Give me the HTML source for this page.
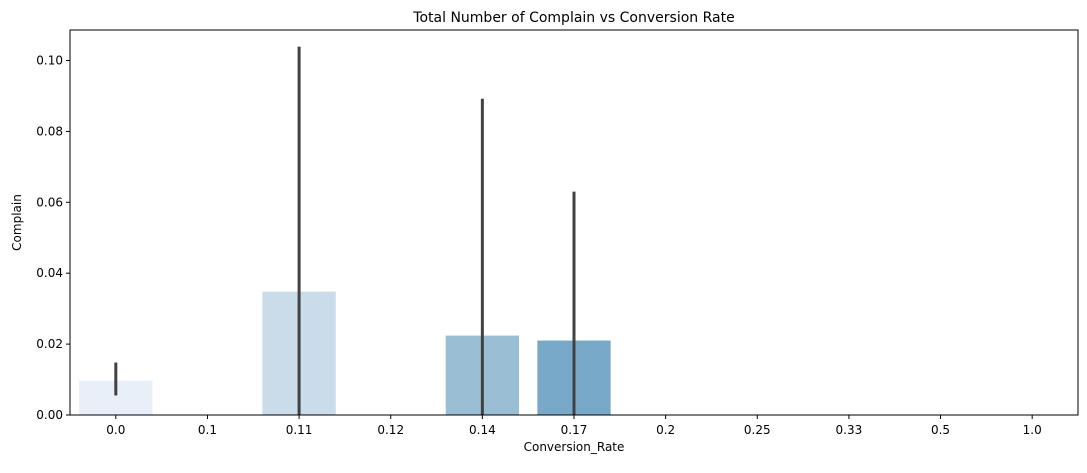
<!DOCTYPE html>
<html><head><meta charset="utf-8"><style>
body{margin:0;background:#fff;font-family:"Liberation Sans","DejaVu Sans",sans-serif}
svg text{font-family:"DejaVu Sans","Liberation Sans",sans-serif;fill:#000}
</style></head><body>
<svg id="c" width="1087" height="468"></svg>
<script>
const categories=["0.0","0.1","0.11","0.12","0.14","0.17","0.2","0.25","0.33","0.5","1.0"];
const values=[0.0097,0,0.0348,0,0.0224,0.0210,0,0,0,0,0];
const errLow=[0.0055,0,0,0,0,0,0,0,0,0,0];
const errHigh=[0.0148,0,0.1039,0,0.0892,0.0630,0,0,0,0,0];
const colors=["#e8eff8","#dbe8f4","#cadbea","#b5d1e4","#9abed4","#78a9c8","#5a96c2","#3f81b8","#2b6aa9","#1a5396","#0c3d7a"];
const yTicks=[0,0.02,0.04,0.06,0.08,0.10];
const yTickLabels=["0.00","0.02","0.04","0.06","0.08","0.10"];
const yMax=0.1086;
const L=70,R=1078,T=30,B=415;
const svg=document.getElementById('c');
const NS='http://www.w3.org/2000/svg';
function el(t,a,p){const e=document.createElementNS(NS,t);for(const k in a)e.setAttribute(k,a[k]);(p||svg).appendChild(e);return e;}
const band=(R-L)/categories.length;
const x=i=>L+band*(i+0.5);
const y=v=>B-(v/yMax)*(B-T);
categories.forEach((c,i)=>{
  if(values[i]>0){
    const r=el('rect',{x:x(i)-band*0.4,y:y(values[i]),width:band*0.8,height:B-y(values[i]),fill:colors[i]});
    
    
  }
  if(errHigh[i]>0){
    const l=el('line',{x1:x(i),x2:x(i),y1:y(errLow[i]),y2:y(errHigh[i]),stroke:'#424242','stroke-width':3});
    
    
  }
  el('line',{x1:x(i),x2:x(i),y1:B,y2:B+4,stroke:'#000'});
  const t=el('text',{x:x(i),y:B+19,'text-anchor':'middle','font-size':12});
  t.textContent=c;
  
  
});
yTicks.forEach((v,i)=>{
  el('line',{x1:L-4,x2:L,y1:y(v),y2:y(v),stroke:'#000'});
  const t=el('text',{x:L-7,y:y(v)+4,'text-anchor':'end','font-size':12});
  t.textContent=yTickLabels[i];
  
  
});
const f=el('rect',{x:L,y:T,width:R-L,height:B-T,fill:'none',stroke:'#000','stroke-width':1});


const ti=el('text',{x:(L+R)/2,y:T-8,'text-anchor':'middle','font-size':14});
ti.textContent='Total Number of Complain vs Conversion Rate';


const xl=el('text',{x:(L+R)/2,y:B+36,'text-anchor':'middle','font-size':12});
xl.textContent='Conversion_Rate';


const yl=el('text',{x:0,y:0,'text-anchor':'middle','font-size':12,transform:`translate(21,${(T+B)/2}) rotate(-90)`});
yl.textContent='Complain';


</script>
</body></html>
